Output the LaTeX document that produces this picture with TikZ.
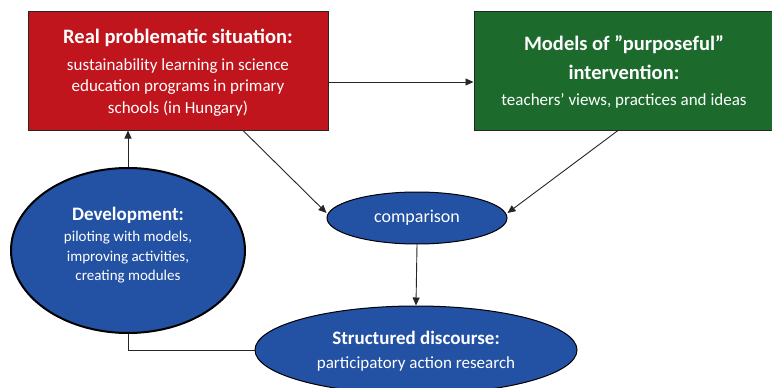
\documentclass[tikz,border=0pt]{standalone}
\usepackage{fontspec}
\setmainfont{Carlito}
\usetikzlibrary{shapes.geometric,arrows.meta}
\definecolor{boxred}{HTML}{C0151D}
\definecolor{boxgreen}{HTML}{1D6A2D}
\definecolor{ellblue}{HTML}{2351A3}
\newcommand{\ttlbig}{\fontsize{20.5}{22}\selectfont\bfseries}
\newcommand{\ttlmid}{\fontsize{19}{22}\selectfont\bfseries}
\tikzset{
  box/.style={rectangle, draw=black!85, line width=1pt, inner sep=0pt},
  ell/.style={ellipse, fill=ellblue, draw=black, line width=1pt, inner sep=0pt},
  lbl/.style={text=white, align=center, inner sep=0pt},
  conn/.style={draw=black!85, line width=0.9pt},
  arr/.style={conn, -{Triangle[length=8pt,width=7pt]}},
}
\begin{document}
\begin{tikzpicture}[x=1pt,y=-1pt]
\useasboundingbox (0,0) rectangle (772,388);
\node[box, fill=boxred, minimum width=300pt, minimum height=119pt] (real) at (178,70.5) {};
\node[lbl, font=\fontsize{17}{21.5}\selectfont] (realtext) at (178,72.5)
  {\ttlbig Real problematic situation:\\[5.5pt]
   sustainability learning in science\\ education programs in primary\\ schools (in Hungary)};
\node[box, fill=boxgreen, minimum width=300pt, minimum height=119pt] (models) at (624,70.5) {};
\node[lbl, font=\fontsize{17}{22}\selectfont] (modelstext) at (624,72)
  {\ttlbig Models of ”purposeful”\\[7pt] \ttlbig intervention:\\[4pt]
   teachers’ views, practices and ideas};
\node[ell, line width=2pt, minimum width=234pt, minimum height=165pt] (dev) at (128,250.5) {};
\node[lbl, font=\fontsize{15}{19.5}\selectfont] (devtext) at (128,245)
  {\ttlmid Development:\\[2pt]
   piloting with models,\\ improving activities,\\ creating modules};
\node[ell, minimum width=180pt, minimum height=52pt] (comp) at (417,218) {};
\node[lbl, font=\fontsize{18}{22}\selectfont] (comptext) at (417,218) {comparison};
\node[ell, minimum width=322pt, minimum height=88pt] (disc) at (416,350) {};
\node[lbl, font=\fontsize{17}{24}\selectfont] (disctext) at (416,351)
  {\ttlmid Structured discourse:\\
   participatory action research};
\draw[arr] (real.east |- 0,82) -- (models.west |- 0,82);
\draw[arr] (real.south -| 243,0) -- (comp.west |- 0,213);
\draw[arr] (models.south -| 618,0) -- (comp.east |- 0,213);
\draw[arr] (comp.south) -- (disc.north);
\draw[arr] (dev.north) -- (real.south -| dev.north);
\draw[conn] (disc.west) -| (dev.south);
\end{tikzpicture}
\end{document}
